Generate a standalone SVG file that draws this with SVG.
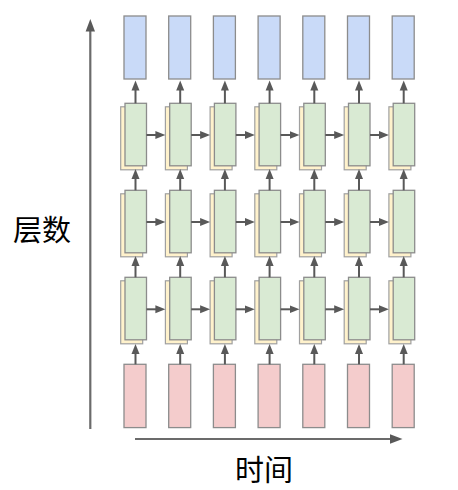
<svg xmlns="http://www.w3.org/2000/svg" width="458" height="490" viewBox="0 0 458 490">
<defs>
<style>
.blue{fill:#c9daf8;stroke:#8c8c8c;stroke-width:1.3}
.green{fill:#d9ead3;stroke:#8c8c8c;stroke-width:1.3}
.yellow{fill:#fff2cc;stroke:#a0a0a0;stroke-width:1.2}
.pink{fill:#f4cccc;stroke:#8c8c8c;stroke-width:1.3}
.arr line{stroke:#595959;stroke-width:2;fill:none;marker-end:url(#ah)}
.axis{stroke:#6b6b6b;stroke-width:2.2;fill:none;marker-end:url(#axh)}
.lbl{font-family:"Noto Sans CJK SC","Noto Sans",sans-serif;font-size:29px;fill:#000;text-anchor:middle}
</style>
<marker id="ah" markerUnits="userSpaceOnUse" markerWidth="11" markerHeight="9" refX="1" refY="4" orient="auto" viewBox="0 0 11 8">
<path d="M0,0 L10,4 L0,8 z" fill="#595959"/>
</marker>
<marker id="axh" markerUnits="userSpaceOnUse" markerWidth="13" markerHeight="10" refX="1" refY="4.7" orient="auto" viewBox="0 0 13 9.4">
<path d="M0,0 L12.5,4.7 L0,9.4 z" fill="#595959"/>
</marker>
</defs>

<g id="axes">
<line class="axis" x1="90.3" y1="429" x2="90.3" y2="30.5"/>
<line class="axis" x1="135" y1="439" x2="391" y2="439"/>
</g>

<g id="nodes">
<g id="col1" transform="translate(124,0)">
<rect class="blue" x="0" y="16" width="22" height="63"/>
<rect class="yellow" x="-3.3" y="106.8" width="22" height="63"/>
<rect class="green" x="1" y="103.3" width="21.5" height="62.5"/>
<rect class="yellow" x="-3.3" y="193.8" width="22" height="63"/>
<rect class="green" x="1" y="190.3" width="21.5" height="62.5"/>
<rect class="yellow" x="-3.3" y="280.8" width="22" height="63"/>
<rect class="green" x="1" y="277.3" width="21.5" height="62.5"/>
<rect class="pink" x="0" y="364.3" width="22" height="63.3"/>
</g>
<g id="col2" transform="translate(168.7,0)">
<rect class="blue" x="0" y="16" width="22" height="63"/>
<rect class="yellow" x="-3.3" y="106.8" width="22" height="63"/>
<rect class="green" x="1" y="103.3" width="21.5" height="62.5"/>
<rect class="yellow" x="-3.3" y="193.8" width="22" height="63"/>
<rect class="green" x="1" y="190.3" width="21.5" height="62.5"/>
<rect class="yellow" x="-3.3" y="280.8" width="22" height="63"/>
<rect class="green" x="1" y="277.3" width="21.5" height="62.5"/>
<rect class="pink" x="0" y="364.3" width="22" height="63.3"/>
</g>
<g id="col3" transform="translate(213.4,0)">
<rect class="blue" x="0" y="16" width="22" height="63"/>
<rect class="yellow" x="-3.3" y="106.8" width="22" height="63"/>
<rect class="green" x="1" y="103.3" width="21.5" height="62.5"/>
<rect class="yellow" x="-3.3" y="193.8" width="22" height="63"/>
<rect class="green" x="1" y="190.3" width="21.5" height="62.5"/>
<rect class="yellow" x="-3.3" y="280.8" width="22" height="63"/>
<rect class="green" x="1" y="277.3" width="21.5" height="62.5"/>
<rect class="pink" x="0" y="364.3" width="22" height="63.3"/>
</g>
<g id="col4" transform="translate(258.1,0)">
<rect class="blue" x="0" y="16" width="22" height="63"/>
<rect class="yellow" x="-3.3" y="106.8" width="22" height="63"/>
<rect class="green" x="1" y="103.3" width="21.5" height="62.5"/>
<rect class="yellow" x="-3.3" y="193.8" width="22" height="63"/>
<rect class="green" x="1" y="190.3" width="21.5" height="62.5"/>
<rect class="yellow" x="-3.3" y="280.8" width="22" height="63"/>
<rect class="green" x="1" y="277.3" width="21.5" height="62.5"/>
<rect class="pink" x="0" y="364.3" width="22" height="63.3"/>
</g>
<g id="col5" transform="translate(302.8,0)">
<rect class="blue" x="0" y="16" width="22" height="63"/>
<rect class="yellow" x="-3.3" y="106.8" width="22" height="63"/>
<rect class="green" x="1" y="103.3" width="21.5" height="62.5"/>
<rect class="yellow" x="-3.3" y="193.8" width="22" height="63"/>
<rect class="green" x="1" y="190.3" width="21.5" height="62.5"/>
<rect class="yellow" x="-3.3" y="280.8" width="22" height="63"/>
<rect class="green" x="1" y="277.3" width="21.5" height="62.5"/>
<rect class="pink" x="0" y="364.3" width="22" height="63.3"/>
</g>
<g id="col6" transform="translate(347.5,0)">
<rect class="blue" x="0" y="16" width="22" height="63"/>
<rect class="yellow" x="-3.3" y="106.8" width="22" height="63"/>
<rect class="green" x="1" y="103.3" width="21.5" height="62.5"/>
<rect class="yellow" x="-3.3" y="193.8" width="22" height="63"/>
<rect class="green" x="1" y="190.3" width="21.5" height="62.5"/>
<rect class="yellow" x="-3.3" y="280.8" width="22" height="63"/>
<rect class="green" x="1" y="277.3" width="21.5" height="62.5"/>
<rect class="pink" x="0" y="364.3" width="22" height="63.3"/>
</g>
<g id="col7" transform="translate(392.2,0)">
<rect class="blue" x="0" y="16" width="22" height="63"/>
<rect class="yellow" x="-3.3" y="106.8" width="22" height="63"/>
<rect class="green" x="1" y="103.3" width="21.5" height="62.5"/>
<rect class="yellow" x="-3.3" y="193.8" width="22" height="63"/>
<rect class="green" x="1" y="190.3" width="21.5" height="62.5"/>
<rect class="yellow" x="-3.3" y="280.8" width="22" height="63"/>
<rect class="green" x="1" y="277.3" width="21.5" height="62.5"/>
<rect class="pink" x="0" y="364.3" width="22" height="63.3"/>
</g>
</g>

<g id="connectors" class="arr">
<line x1="135.5" y1="103.3" x2="135.5" y2="89.5"/><line x1="135.5" y1="190.3" x2="135.5" y2="178"/><line x1="135.5" y1="277.3" x2="135.5" y2="265"/><line x1="135.5" y1="364.3" x2="135.5" y2="353"/>
<line x1="180.2" y1="103.3" x2="180.2" y2="89.5"/><line x1="180.2" y1="190.3" x2="180.2" y2="178"/><line x1="180.2" y1="277.3" x2="180.2" y2="265"/><line x1="180.2" y1="364.3" x2="180.2" y2="353"/>
<line x1="224.9" y1="103.3" x2="224.9" y2="89.5"/><line x1="224.9" y1="190.3" x2="224.9" y2="178"/><line x1="224.9" y1="277.3" x2="224.9" y2="265"/><line x1="224.9" y1="364.3" x2="224.9" y2="353"/>
<line x1="269.6" y1="103.3" x2="269.6" y2="89.5"/><line x1="269.6" y1="190.3" x2="269.6" y2="178"/><line x1="269.6" y1="277.3" x2="269.6" y2="265"/><line x1="269.6" y1="364.3" x2="269.6" y2="353"/>
<line x1="314.3" y1="103.3" x2="314.3" y2="89.5"/><line x1="314.3" y1="190.3" x2="314.3" y2="178"/><line x1="314.3" y1="277.3" x2="314.3" y2="265"/><line x1="314.3" y1="364.3" x2="314.3" y2="353"/>
<line x1="359" y1="103.3" x2="359" y2="89.5"/><line x1="359" y1="190.3" x2="359" y2="178"/><line x1="359" y1="277.3" x2="359" y2="265"/><line x1="359" y1="364.3" x2="359" y2="353"/>
<line x1="403.7" y1="103.3" x2="403.7" y2="89.5"/><line x1="403.7" y1="190.3" x2="403.7" y2="178"/><line x1="403.7" y1="277.3" x2="403.7" y2="265"/><line x1="403.7" y1="364.3" x2="403.7" y2="353"/>
<line x1="146.5" y1="135" x2="156.4" y2="135"/><line x1="146.5" y1="222" x2="156.4" y2="222"/><line x1="146.5" y1="309.3" x2="156.4" y2="309.3"/>
<line x1="191.2" y1="135" x2="201.1" y2="135"/><line x1="191.2" y1="222" x2="201.1" y2="222"/><line x1="191.2" y1="309.3" x2="201.1" y2="309.3"/>
<line x1="235.9" y1="135" x2="245.8" y2="135"/><line x1="235.9" y1="222" x2="245.8" y2="222"/><line x1="235.9" y1="309.3" x2="245.8" y2="309.3"/>
<line x1="280.6" y1="135" x2="290.5" y2="135"/><line x1="280.6" y1="222" x2="290.5" y2="222"/><line x1="280.6" y1="309.3" x2="290.5" y2="309.3"/>
<line x1="325.3" y1="135" x2="335.2" y2="135"/><line x1="325.3" y1="222" x2="335.2" y2="222"/><line x1="325.3" y1="309.3" x2="335.2" y2="309.3"/>
<line x1="370" y1="135" x2="379.9" y2="135"/><line x1="370" y1="222" x2="379.9" y2="222"/><line x1="370" y1="309.3" x2="379.9" y2="309.3"/>
</g>

<text class="lbl" x="42" y="241">层数</text>
<text class="lbl" x="264" y="481">时间</text>
</svg>
